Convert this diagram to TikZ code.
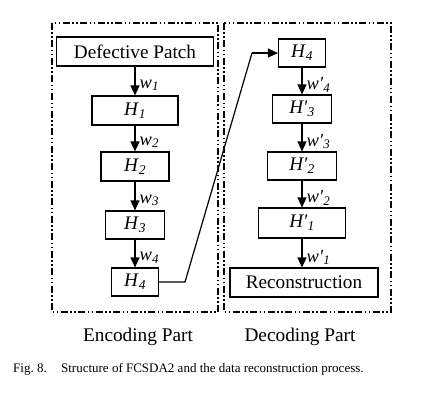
\documentclass[tikz,border=0pt]{standalone}
\usepackage{fontspec}
\setmainfont{Liberation Serif}
\usetikzlibrary{arrows.meta}
\newcommand{\vsub}[2]{\textit{#1}\textsubscript{\textit{#2}}}
\newcommand{\pr}{\textquotesingle}
\begin{document}
\begin{tikzpicture}[x=1pt,y=-1pt,
  layer/.style={draw,line width=1.1pt,inner sep=0pt,font=\fontsize{19.2}{21}\selectfont},
  flow/.style={line width=1.4pt,-{Triangle[width=9pt,length=10pt]}},
  wlab/.style={font=\fontsize{18.5}{20}\selectfont,anchor=west,inner sep=1pt,xshift=3pt},
  frame/.style={line width=1.1pt,dash pattern=on 7pt off 2.5pt on 1.5pt off 2.5pt on 1.5pt off 2.5pt}]
\useasboundingbox (0,0) rectangle (430,393);

% dash-dot frames of the two halves
\draw[frame] (52,23) rectangle (218,312);
\draw[frame] (224,23) rectangle (391,312);

% encoder
\node[layer,minimum width=157pt,minimum height=29pt] (dp) at (135,51.5) {Defective Patch};
\node[layer,minimum width=86pt,minimum height=29pt] (h1) at (135,110.5) {\vsub{H}{1}};
\node[layer,minimum width=68pt,minimum height=29pt] (h2) at (135,166.5) {\vsub{H}{2}};
\node[layer,minimum width=59pt,minimum height=28pt] (h3) at (135,225) {\vsub{H}{3}};
\node[layer,minimum width=47pt,minimum height=28pt] (h4) at (135,282) {\vsub{H}{4}};

\draw[flow] (dp) -- node[wlab,pos=0.65,right] {\vsub{w}{1}} (h1);
\draw[flow] (h1) -- node[wlab,pos=0.65,right] {\vsub{w}{2}} (h2);
\draw[flow] (h2) -- node[wlab,pos=0.65,right] {\vsub{w}{3}} (h3);
\draw[flow] (h3) -- node[wlab,pos=0.65,right] {\vsub{w}{4}} (h4);

% decoder
\node[layer,minimum width=47pt,minimum height=28pt] (g4) at (302,53) {\vsub{H}{4}};
\node[layer,minimum width=59pt,minimum height=28pt] (g3) at (302,109) {\vsub{H\pr}{3}};
\node[layer,minimum width=69pt,minimum height=28pt] (g2) at (302,166) {\vsub{H\pr}{2}};
\node[layer,minimum width=87pt,minimum height=30pt] (g1) at (302,223) {\vsub{H\pr}{1}};
\node[layer,minimum width=148pt,minimum height=29pt] (rec) at (304,282.5) {Reconstruction};

\draw[flow] (g4) -- node[wlab,pos=0.65,right] {\vsub{w\pr}{4}} (g3);
\draw[flow] (g3) -- node[wlab,pos=0.65,right] {\vsub{w\pr}{3}} (g2);
\draw[flow] (g2) -- node[wlab,pos=0.65,right] {\vsub{w\pr}{2}} (g1);
\draw[flow] (g1.south) -- node[wlab,pos=0.65,right] {\vsub{w\pr}{1}} (g1.south |- rec.north);

% link from the code layer to the decoder input
\coordinate (k1) at (185,282);
\coordinate (k2) at (252,53);
\draw[line width=1.2pt] (h4.east) -- (k1) -- (k2);
\draw[flow,line width=1.2pt] (k2) -- (g4.west);

% part titles
\node[font=\fontsize{19.3}{21}\selectfont] (enc) at (138,337) {Encoding Part};
\node[font=\fontsize{19.3}{21}\selectfont] (dec) at (300,337) {Decoding Part};

% caption
\node[font=\fontsize{13}{15}\selectfont,anchor=west,inner sep=0pt] (cap) at (13,369) {Fig.~8.\hspace{1.1em}Structure of FCSDA2 and the data reconstruction process.};
\end{tikzpicture}
\end{document}
